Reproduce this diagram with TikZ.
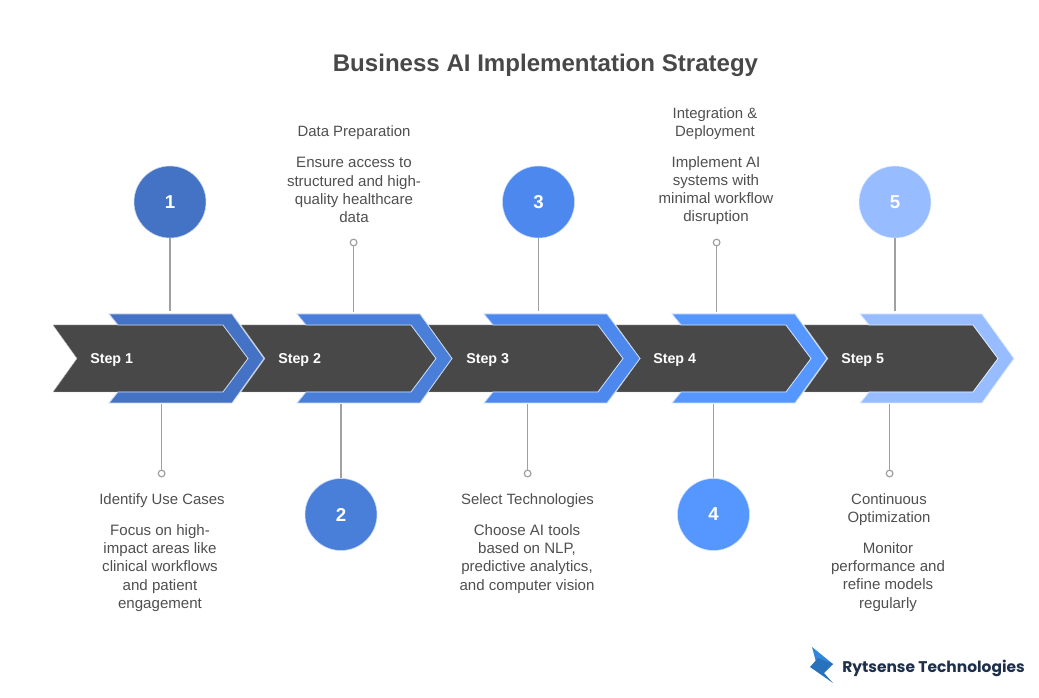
\documentclass[tikz,border=0pt]{standalone}
\usepackage{fontspec}
\setmainfont{Liberation Sans}
\newfontfamily\logofont{Poppins}
\definecolor{bodydark}{HTML}{484848}
\definecolor{textgray}{HTML}{4F4F4F}
\definecolor{linegray}{HTML}{A0A0A0}
\definecolor{blueone}{HTML}{4472C4}
\definecolor{bluetwo}{HTML}{4A7FD9}
\definecolor{bluethree}{HTML}{4C88EE}
\definecolor{bluefour}{HTML}{5596FF}
\definecolor{bluefive}{HTML}{97BCFF}
\definecolor{logoblue}{HTML}{2F86DC}
\definecolor{logonavy}{HTML}{1D2F4B}
\tikzset{
    darkarrow/.style={fill=bodydark, draw=white!60!bodydark, line width=0.3pt},
    chevron/.style={draw=white!70!#1, fill=#1, line width=0.6pt},
    numcircle/.style={circle, fill=#1, draw=white!70!#1, line width=0.4pt, minimum size=54pt, inner sep=0pt, text=white, font=\fontsize{14}{16}\selectfont\bfseries},
    stem/.style={draw=linegray, line width=1.2pt},
    pin/.style={circle, draw=linegray, fill=white, line width=0.9pt, minimum size=5pt, inner sep=0pt},
    heading/.style={align=center, text=textgray, font=\fontsize{11.2}{13.5}\selectfont, inner sep=0pt},
    blurb/.style={align=center, text=textgray, font=\fontsize{11.3}{13.6}\selectfont, inner sep=0pt},
    steplabel/.style={anchor=west, text=white, inner sep=0pt, font=\fontsize{10.7}{12}\selectfont\bfseries}
}
\begin{document}
\begin{tikzpicture}[x=0.75pt,y=-0.75pt]
            \useasboundingbox (0,0) rectangle (1039,698);

            \node[text=bodydark, inner sep=0pt, font=\fontsize{18.05}{22}\selectfont\bfseries] (title) at (545.5,65) {Business AI Implementation Strategy};

            \fill[darkarrow] (53,325) -- (223,325) -- (248,358.5) -- (223,392) -- (53,392) -- (77,358.5) -- cycle;
            \fill[darkarrow] (241,325) -- (411,325) -- (436,358.5) -- (411,392) -- (241,392) -- (265,358.5) -- cycle;
            \fill[darkarrow] (428,325) -- (598,325) -- (623,358.5) -- (598,392) -- (428,392) -- (452,358.5) -- cycle;
            \fill[darkarrow] (616,325) -- (786,325) -- (811,358.5) -- (786,392) -- (616,392) -- (640,358.5) -- cycle;
            \fill[darkarrow] (804,325) -- (973,325) -- (998,358.5) -- (973,392) -- (804,392) -- (828,358.5) -- cycle;

            \draw[chevron=blueone] (109,314) -- (232,314) -- (264,358.5) -- (232,403) -- (109,403) -- (118,392) -- (223,392) -- (248,358.5) -- (223,325) -- (118,325) -- cycle;
            \draw[chevron=bluetwo] (297,314) -- (420,314) -- (452,358.5) -- (420,403) -- (297,403) -- (306,392) -- (411,392) -- (436,358.5) -- (411,325) -- (306,325) -- cycle;
            \draw[chevron=bluethree] (484,314) -- (607,314) -- (640,358.5) -- (607,403) -- (484,403) -- (493,392) -- (598,392) -- (623,358.5) -- (598,325) -- (493,325) -- cycle;
            \draw[chevron=bluefour] (672,314) -- (795,314) -- (827,358.5) -- (795,403) -- (672,403) -- (681,392) -- (786,392) -- (811,358.5) -- (786,325) -- (681,325) -- cycle;
            \draw[chevron=bluefive] (860,314) -- (982,314) -- (1014,358.5) -- (982,403) -- (860,403) -- (869,392) -- (973,392) -- (998,358.5) -- (973,325) -- (869,325) -- cycle;

            \node[steplabel] (s1) at (90,360) {Step 1};
            \node[steplabel] (s2) at (278,360) {Step 2};
            \node[steplabel] (s3) at (466,360) {Step 3};
            \node[steplabel] (s4) at (653,360) {Step 4};
            \node[steplabel] (s5) at (841,360) {Step 5};

            \node[numcircle=blueone] (c1) at (170,202) {1};
            \node[numcircle=bluetwo] (c2) at (341,514.5) {2};
            \node[numcircle=bluethree] (c3) at (538.5,202) {3};
            \node[numcircle=bluefour] (c4) at (713.5,514.5) {4};
            \node[numcircle=bluefive] (c5) at (895,202) {5};

            \node[pin] (p1) at (161.6,473.5) {};
            \node[pin] (p2) at (353.6,242.5) {};
            \node[pin] (p3) at (527.6,473.5) {};
            \node[pin] (p4) at (716.6,242.5) {};
            \node[pin] (p5) at (889.6,473.5) {};

            \coordinate (a1) at (170,311);
            \coordinate (a2) at (353.6,312);
            \coordinate (a3) at (538.5,311);
            \coordinate (a4) at (716.6,312);
            \coordinate (a5) at (895,311);
            \coordinate (b1) at (161.6,404.5);
            \coordinate (b2) at (341,404.5);
            \coordinate (b3) at (527.6,404.5);
            \coordinate (b4) at (713.5,404.5);
            \coordinate (b5) at (889.6,404.5);

            \draw[stem] (c1) -- (a1);
            \draw[stem] (p2) -- (a2);
            \draw[stem] (c3) -- (a3);
            \draw[stem] (p4) -- (a4);
            \draw[stem] (c5) -- (a5);
            \draw[stem] (p1) -- (b1);
            \draw[stem] (c2) -- (b2);
            \draw[stem] (p3) -- (b3);
            \draw[stem] (c4) -- (b4);
            \draw[stem] (p5) -- (b5);

            \node[heading] (h1) at (162,501) {Identify Use Cases};
            \node[heading] (h2) at (354,133) {Data Preparation};
            \node[heading] (h3) at (527.5,501) {Select Technologies};
            \node[heading] (h4) at (715,124) {Integration \&\\Deployment};
            \node[heading] (h5) at (889,510) {Continuous\\Optimization};

            \node[blurb] (t1) at (160,568) {Focus on high-\\impact areas like\\clinical workflows\\and patient\\engagement};
            \node[blurb] (t2) at (354,190) {Ensure access to\\structured and high-\\quality healthcare\\data};
            \node[blurb] (t3) at (527,559) {Choose AI tools\\based on NLP,\\predictive analytics,\\and computer vision};
            \node[blurb] (t4) at (716,190.5) {Implement AI\\systems with\\minimal workflow\\disruption};
            \node[blurb] (t5) at (888,577) {Monitor\\performance and\\refine models\\regularly};

            \fill[logoblue] (812,647) -- (833,664) -- (822,672) -- (816,662) -- cycle;
            \fill[logoblue!85!black] (810,667) -- (818,658) -- (833,664) -- (824,673) -- (833,683) -- cycle;
            \node[anchor=west, text=logonavy, inner sep=0pt, font=\logofont\fontsize{11.6}{14}\selectfont] (logo) at (842,668) {\textbf{Rytsense Technologies}};
        \end{tikzpicture}
\end{document}
